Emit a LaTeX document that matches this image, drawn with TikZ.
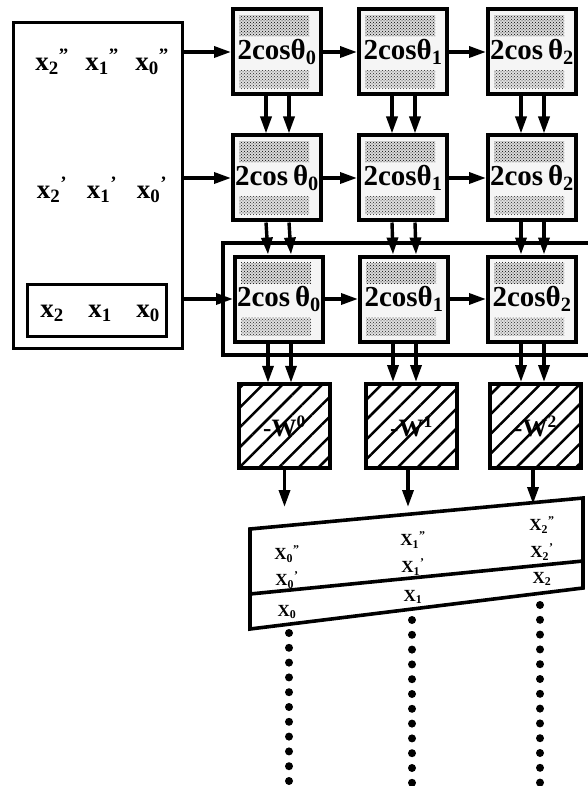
\documentclass[tikz,border=0pt]{standalone}
\usepackage{fontspec}
\setmainfont{Liberation Serif}
\usetikzlibrary{arrows.meta,patterns,patterns.meta,calc}
\newcommand\xsub[3]{#1\textsubscript{#3}\textsuperscript{#2}}
\tikzset{
  cbox/.style={draw, line width=4pt, minimum width=88pt, minimum height=85pt, fill=gray!8, inner sep=0pt,
    font=\fontsize{29}{31}\selectfont\bfseries,
    path picture={
      \fill[gray!30] ([xshift=6pt,yshift=-6pt]path picture bounding box.north west) rectangle ([xshift=-12pt,yshift=-27pt]path picture bounding box.north east);
      \fill[pattern=crosshatch dots, pattern color=black] ([xshift=6pt,yshift=-6pt]path picture bounding box.north west) rectangle ([xshift=-12pt,yshift=-27pt]path picture bounding box.north east);
      \fill[gray!25] ([xshift=6pt,yshift=6pt]path picture bounding box.south west) rectangle ([xshift=-12pt,yshift=24pt]path picture bounding box.south east);
      \fill[pattern=crosshatch dots, pattern color=black!85] ([xshift=6pt,yshift=6pt]path picture bounding box.south west) rectangle ([xshift=-12pt,yshift=24pt]path picture bounding box.south east);
    }},
  wbox/.style={draw, line width=4pt, minimum width=91pt, minimum height=84pt, inner sep=0pt,
    pattern={Lines[angle=45,distance=14pt,line width=2.5pt]},
    font=\fontsize{25}{27}\selectfont\bfseries},
  arr/.style={line width=3.4pt, -{Triangle[length=17pt,width=11pt]}},
  thick3/.style={line width=3.6pt},
  xl/.style={font=\fontsize{27}{28}\selectfont\bfseries, inner sep=0pt},
  Xl/.style={font=\fontsize{17}{18}\selectfont\bfseries, inner sep=0pt},
  dotline/.style={line width=8pt, line cap=round, dash pattern=on 0pt off 14.8pt}
}
\begin{document}
\begin{tikzpicture}[x=1pt,y=-1pt]
\useasboundingbox (0,0) rectangle (588,786);

% left input box
\node[draw, thick3, minimum width=169pt, minimum height=326pt] (L) at (98,185.5) {};
\node[draw, thick3, minimum width=139pt, minimum height=52pt] (Li) at (97,310.5) {};
\node[xl] (a2) at (52,62) {\xsub{x}{''}{2}};
\node[xl] (a1) at (102,62) {\xsub{x}{''}{1}};
\node[xl] (a0) at (152,62) {\xsub{x}{''}{0}};
\node[xl] (b2) at (52,190) {\xsub{x}{'}{2}};
\node[xl] (b1) at (102,190) {\xsub{x}{'}{1}};
\node[xl] (b0) at (152,190) {\xsub{x}{'}{0}};
\node[xl] (c2) at (52,313) {x\textsubscript{2}};
\node[xl] (c1) at (100,313) {x\textsubscript{1}};
\node[xl] (c0) at (148,313) {x\textsubscript{0}};

% frame round third row
\draw[thick3] (592,243) -- (223,243) -- (223,355) -- (592,355);

% cos boxes
\node[cbox] (r1c1) at (277,52) {2cosθ\textsubscript{0}};
\node[cbox] (r1c2) at (403,52) {2cosθ\textsubscript{1}};
\node[cbox] (r1c3) at (532,52) {2cos\,θ\textsubscript{2}};
\node[cbox] (r2c1) at (277,178) {2cos\,θ\textsubscript{0}};
\node[cbox] (r2c2) at (403,178) {2cosθ\textsubscript{1}};
\node[cbox] (r2c3) at (532,178) {2cos\,θ\textsubscript{2}};
\node[cbox] (r3c1) at (279,299) {2cos\,θ\textsubscript{0}};
\node[cbox] (r3c2) at (404,299) {2cosθ\textsubscript{1}};
\node[cbox] (r3c3) at (532,299) {2cosθ\textsubscript{2}};

% W boxes
\node[wbox] (w1) at (284.5,426) {-W\textsuperscript{0}};
\node[wbox] (w2) at (411.5,426) {-W\textsuperscript{1}};
\node[wbox] (w3) at (535.5,426) {-W\textsuperscript{2}};

% arrows from left box
\draw[arr] (L.east |- r1c1.west) -- (r1c1.west);
\draw[arr] (L.east |- r2c1.west) -- (r2c1.west);
\draw[arr] (L.east |- r3c1.west) -- (r3c1.west);

% horizontal arrows
\foreach \r in {1,2,3}{
  \draw[arr] (r\r c1.east) -- (r\r c2.west);
  \draw[arr] (r\r c2.east) -- (r\r c3.west);
}

% vertical arrows between rows
\foreach \c in {1,2,3}{
  \foreach \dx in {-11,12}{
    \draw[arr] ([xshift=\dx pt]r1c\c.south) -- ([xshift=\dx pt]r2c\c.north);
    \draw[arr] ([xshift=\dx pt]r2c\c.south) -- ([xshift=\dx pt]r3c\c.north);
    \coordinate (s) at ([xshift=\dx pt]r3c\c.south);
    \draw[arr] (s) -- (s |- w\c.north);
  }
}

% parallelogram
\coordinate (TL) at (250,529);
\coordinate (TR) at (583,498);
\coordinate (BR) at (583,588);
\coordinate (BL) at (250,629);
\coordinate (ML) at (250,594);
\coordinate (MR) at (583,561);
\draw[thick3, line join=miter] (TL) -- (TR) -- (BR) -- (BL) -- cycle;
\draw[thick3] (ML) -- (MR);

% arrows from W
\coordinate (e1) at (284.5,507);
\coordinate (e2) at (408,507);
\coordinate (e3) at (533,504);
\draw[arr] (w1.south) -- (e1);
\draw[arr] ([xshift=-3.5pt]w2.south) -- (e2);
\draw[arr] ([xshift=-2.5pt]w3.south) -- (e3);

% texts in parallelogram
\node[Xl] (p02) at (287,554) {\xsub{X}{''}{0}};
\node[Xl] (p01) at (287,580) {\xsub{X}{'}{0}};
\node[Xl] (p00) at (287,612) {X\textsubscript{0}};
\node[Xl] (p12) at (413,540) {\xsub{X}{''}{1}};
\node[Xl] (p11) at (413,567) {\xsub{X}{'}{1}};
\node[Xl] (p10) at (413,597) {X\textsubscript{1}};
\node[Xl] (p22) at (542,525) {\xsub{X}{''}{2}};
\node[Xl] (p21) at (542,552) {\xsub{X}{'}{2}};
\node[Xl] (p20) at (542,579) {X\textsubscript{2}};

% dotted continuations
\coordinate (d1a) at (289,633); \coordinate (d1b) at (289,783);
\coordinate (d2a) at (412,620); \coordinate (d2b) at (412,783);
\coordinate (d3a) at (540,605); \coordinate (d3b) at (540,783);
\draw[dotline] (d1a) -- (d1b);
\draw[dotline] (d2a) -- (d2b);
\draw[dotline] (d3a) -- (d3b);
\end{tikzpicture}
\end{document}
